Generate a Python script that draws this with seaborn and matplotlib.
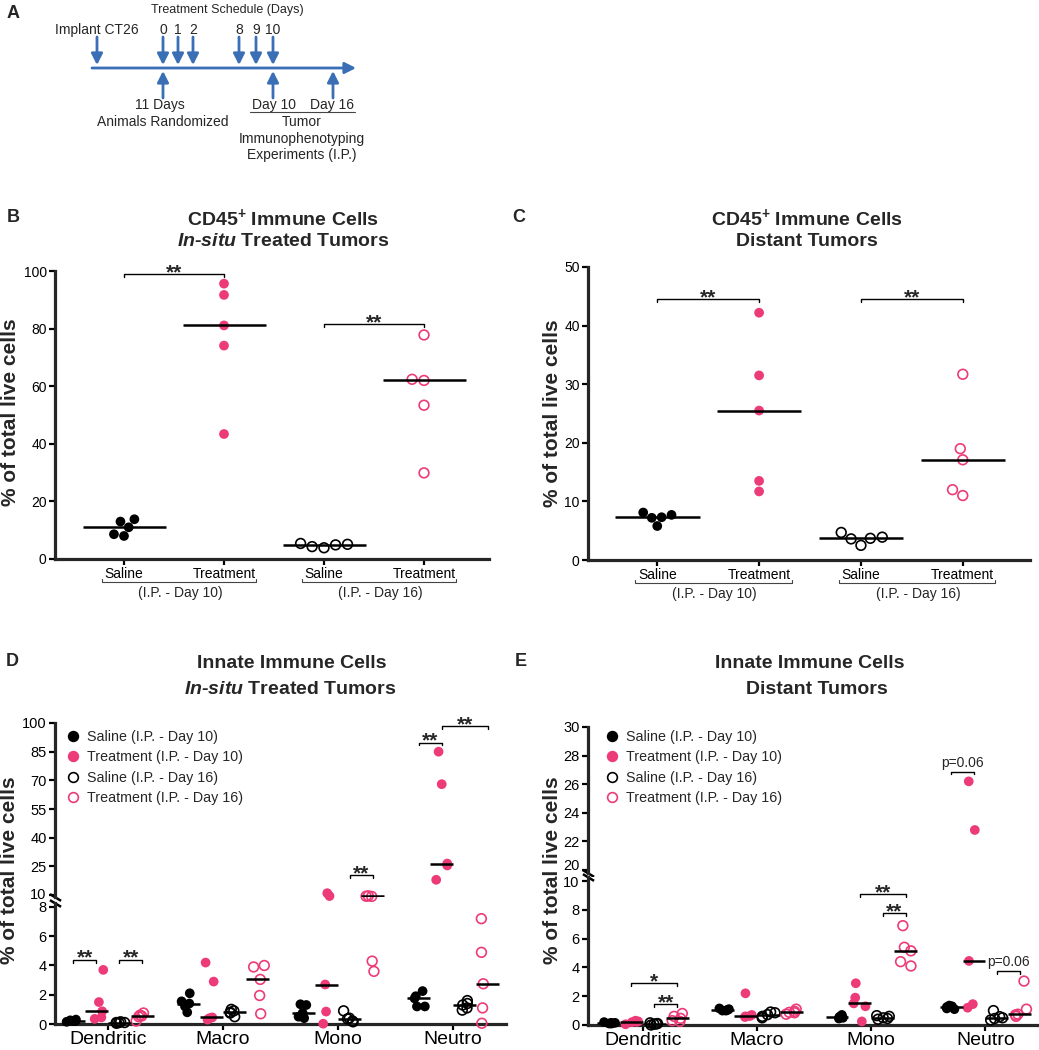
import numpy as np
import pandas as pd
import matplotlib
matplotlib.use('Agg')
import matplotlib.pyplot as plt
from matplotlib.lines import Line2D
from matplotlib.transforms import ScaledTranslation
import seaborn as sns

PINK = '#EC3B78'
BLUE = '#3A6EB5'

groups = ['Saline (I.P. - Day 10)', 'Treatment (I.P. - Day 10)',
          'Saline (I.P. - Day 16)', 'Treatment (I.P. - Day 16)']
group_ticklabels = ['Saline', 'Treatment', 'Saline', 'Treatment']
day_labels = ['(I.P. - Day 10)', '(I.P. - Day 16)']
cells = ['Dendritic', 'Macro', 'Mono', 'Neutro']
schedule_days = ['0', '1', '2', '8', '9', '10']

# Panel B: CD45+ immune cells, in-situ treated tumors (% of total live cells)
b_saline_d10 = [13.8, 8.0, 11.0, 13.0, 8.6]
b_treat_d10 = [95.6, 91.7, 81.1, 74.1, 43.4]
b_saline_d16 = [4.3, 5.4, 4.9, 5.1, 3.9]
b_treat_d16 = [77.8, 62.0, 62.4, 53.4, 29.9]

# Panel C: CD45+ immune cells, distant tumors
c_saline_d10 = [7.7, 5.8, 8.1, 7.2, 7.3]
c_treat_d10 = [42.2, 31.5, 25.5, 13.5, 11.7]
c_saline_d16 = [4.7, 2.5, 3.9, 3.6, 3.7]
c_treat_d16 = [31.7, 19.0, 17.1, 11.0, 12.0]

# Panel D: innate cells, in-situ tumors (rows = Dendritic, Macro, Mono, Neutro)
d_saline_d10 = [[0.15, 0.2, 0.2, 0.25, 0.3],
                [2.1, 1.55, 1.4, 1.2, 0.8],
                [1.35, 1.3, 0.75, 0.5, 0.4],
                [2.25, 1.9, 1.75, 1.2, 1.2]]
d_treat_d10 = [[3.7, 1.5, 0.87, 0.45, 0.35],
               [4.2, 2.9, 0.45, 0.4, 0.3],
               [11.0, 9.5, 2.7, 0.85, 0.02],
               [85.0, 68.0, 26.5, 25.5, 18.0]]
d_saline_d16 = [[0.05, 0.1, 0.1, 0.15, 0.1],
                [1.0, 0.9, 0.8, 0.75, 0.5],
                [0.9, 0.4, 0.35, 0.2, 0.15],
                [1.6, 1.4, 1.3, 1.1, 0.95]]
d_treat_d16 = [[0.75, 0.6, 0.55, 0.2, 0.5],
               [4.0, 3.9, 3.05, 1.95, 0.7],
               [9.6, 9.4, 9.3, 4.3, 3.6],
               [7.2, 4.9, 2.75, 1.1, 0.05]]

# Panel E: innate cells, distant tumors
e_saline_d10 = [[0.2, 0.15, 0.15, 0.1, 0.1],
                [1.15, 1.1, 1.05, 1.0, 1.0],
                [0.7, 0.6, 0.55, 0.5, 0.45],
                [1.35, 1.3, 1.25, 1.15, 1.1]]
e_treat_d10 = [[0.3, 0.25, 0.22, 0.2, 0.05],
               [2.2, 0.7, 0.62, 0.6, 0.55],
               [2.9, 1.9, 1.5, 1.3, 0.25],
               [26.2, 22.8, 4.45, 1.45, 1.2]]
e_saline_d16 = [[0.15, 0.1, 0.08, 0.05, 0.0],
                [0.9, 0.85, 0.72, 0.6, 0.5],
                [0.65, 0.6, 0.5, 0.45, 0.4],
                [1.0, 0.58, 0.5, 0.45, 0.35]]
e_treat_d16 = [[0.8, 0.6, 0.46, 0.3, 0.25],
               [1.1, 0.95, 0.88, 0.85, 0.75],
               [6.9, 5.4, 5.15, 4.4, 4.1],
               [3.05, 1.1, 0.75, 0.7, 0.6]]

palette = dict(zip(groups, ['black', PINK, 'black', PINK]))
hollow = groups[2:]

sns.set_style('ticks')
plt.rcParams['font.family'] = ['Liberation Sans', 'DejaVu Sans']
plt.rcParams['mathtext.fontset'] = 'custom'
plt.rcParams['mathtext.rm'] = 'Liberation Sans'
plt.rcParams['mathtext.bf'] = 'Liberation Sans:bold'
plt.rcParams['mathtext.it'] = 'Liberation Sans:italic'
plt.rcParams['mathtext.bfit'] = 'Liberation Sans:italic:bold'
np.random.seed(3)

W, H = 1039, 1050
fig = plt.figure(figsize=(W / 100, H / 100), dpi=100)


def add_ax(left, top, right, bottom):
    return fig.add_axes([left / W, 1 - bottom / H, (right - left) / W, (bottom - top) / H])


def ftext(x, y, s, **kw):
    kw.setdefault('ha', 'center')
    kw.setdefault('va', 'center')
    fig.text(x / W, 1 - y / H, s, **kw)


def cd45_frame(*series):
    return pd.DataFrame({'group': np.repeat(groups, [len(s) for s in series]),
                         'value': np.concatenate(series)})


def innate_frame(*series):
    rows = []
    for g, s in zip(groups, series):
        for cell, vals in zip(cells, s):
            rows += [(cell, g, v) for v in vals]
    return pd.DataFrame(rows, columns=['cell', 'group', 'value'])


def style_axis(ax, bottom=True, labelsize=10):
    sns.despine(ax=ax, bottom=not bottom)
    for s in ['left', 'bottom']:
        ax.spines[s].set_linewidth(2.3)
    ax.tick_params(direction='out', width=1.6, length=4, colors='black',
                   labelsize=labelsize, pad=2)
    ax.set_xlabel('')
    ax.set_ylabel('')


def draw_points(ax, df, x, order, dodge, swarm):
    for g in groups:
        sub = df[df['group'] == g]
        if sub.empty:
            continue
        n0 = len(ax.collections)
        kws = dict(data=sub, x=x, y='value', hue='group', order=order, hue_order=groups,
                   palette=palette, dodge=dodge, size=7, legend=False, ax=ax,
                   clip_on=False, zorder=3)
        if swarm:
            sns.swarmplot(**kws)
        else:
            sns.stripplot(jitter=0.25, **kws)
        if g in hollow:
            # only touch collections that hold points, empty ones would draw at the origin
            for c in ax.collections[n0:]:
                if len(c.get_offsets()):
                    c.set_facecolor('none')
                    c.set_edgecolor(palette[g])
                    c.set_linewidth(1.2)


def draw_medians(ax, df, x, order, hue=None, width=0.8):
    sns.boxplot(data=df, x=x, y='value', hue=hue, order=order,
                hue_order=groups if hue else None, width=width, legend=False, ax=ax,
                showbox=False, showcaps=False, showfliers=False,
                whiskerprops={'linewidth': 0},
                medianprops={'color': 'black', 'linewidth': 1.8, 'zorder': 4})


def sig(ax, x1, x2, y, drop, label):
    ax.plot([x1, x1, x2, x2], [y - drop, y, y, y - drop], color='black', lw=1.0,
            clip_on=False)
    if label.startswith('p'):
        ax.annotate(label, ((x1 + x2) / 2, y), xytext=(0, 1.5), textcoords='offset points',
                    ha='center', va='bottom', fontsize=10, annotation_clip=False)
    else:
        ax.annotate(label, ((x1 + x2) / 2, y), xytext=(0, -3), textcoords='offset points',
                    ha='center', va='baseline', fontsize=15, fontweight='bold',
                    annotation_clip=False)


def dodge_pos(cat, g):
    return cat + (g - 1.5) * 0.2


def group_underline(ax, h_px):
    trans = ax.get_xaxis_transform()
    for i, lab in enumerate(day_labels):
        x0, x1 = 2 * i - 0.22, 2 * i + 1.32
        y = -23 / h_px
        ax.plot([x0, x0, x1, x1], [y + 3 / h_px, y, y, y + 3 / h_px], transform=trans,
                clip_on=False, color='#444444', lw=0.8)
        ax.text(2 * i + 0.56, -34 / h_px, lab, transform=trans, ha='center', va='center',
                fontsize=10)


def break_mark(ax, y):
    ax.plot([0], [y], transform=ax.transAxes, marker=[(-1, 0.6), (1, -0.6)], ms=8,
            mew=1.8, color='black', mec='black', ls='none', clip_on=False)


def nudge_ytick(ax, label, dy_pt):
    for t in ax.get_yticklabels():
        if t.get_text() == label:
            t.set_transform(t.get_transform() + ScaledTranslation(0, dy_pt / 72, fig.dpi_scale_trans))


# ---------------- Panel A: schedule ----------------
axA = add_ax(0, 0, 400, 170)
axA.set_xlim(0, 400)
axA.set_ylim(170, 0)
axA.axis('off')
arrow = dict(arrowstyle='-|>,head_length=0.55,head_width=0.28', color=BLUE, lw=2,
             mutation_scale=12, shrinkA=0, shrinkB=0)
axA.annotate('', xy=(356, 68), xytext=(92, 68), arrowprops=arrow)
schedule_x = [163, 178, 193, 239, 256, 273]
for xd, lab in zip([97] + schedule_x, ['Implant CT26'] + schedule_days):
    axA.annotate('', xy=(xd, 65), xytext=(xd, 37), arrowprops=arrow)
    axA.text(xd, 30, lab, ha='center', va='center', fontsize=10)
for xd in [163, 273, 333]:
    axA.annotate('', xy=(xd, 71), xytext=(xd, 98), arrowprops=arrow)
axA.text(227, 10, 'Treatment Schedule (Days)', ha='center', va='center', fontsize=9)
axA.text(160, 105, '11 Days', ha='center', va='center', fontsize=10)
axA.text(163, 122, 'Animals Randomized', ha='center', va='center', fontsize=10)
axA.text(274, 105, 'Day 10', ha='center', va='center', fontsize=10)
axA.text(332, 105, 'Day 16', ha='center', va='center', fontsize=10)
axA.plot([250, 355], [112, 112], color='#444444', lw=0.8)
axA.text(302, 122, 'Tumor', ha='center', va='center', fontsize=10)
axA.text(302, 139, 'Immunophenotyping', ha='center', va='center', fontsize=10)
axA.text(302, 155, 'Experiments (I.P.)', ha='center', va='center', fontsize=10)

# ---------------- Panels B and C ----------------
dfB = cd45_frame(b_saline_d10, b_treat_d10, b_saline_d16, b_treat_d16)
dfC = cd45_frame(c_saline_d10, c_treat_d10, c_saline_d16, c_treat_d16)

axB = add_ax(55, 271, 489, 559)
axC = add_ax(588, 267, 1030, 560)
for ax, df, top, step, h_px, xl in [(axB, dfB, 100, 20, 288, (-0.69, 3.65)),
                                    (axC, dfC, 50, 10, 293, (-0.68, 3.66))]:
    draw_points(ax, df, 'group', groups, dodge=False, swarm=True)
    draw_medians(ax, df, 'group', groups, width=0.83)
    style_axis(ax)
    ax.set_ylim(0, top)
    ax.set_yticks(np.arange(0, top + 1, step))
    ax.set_xlim(*xl)
    ax.set_xticks(range(4))
    ax.set_xticklabels(group_ticklabels, fontsize=10)
    group_underline(ax, h_px)

sig(axB, 0, 1, 99, 1.0, '**')
sig(axB, 2, 3, 81.6, 1.0, '**')
sig(axC, 0, 1, 44.5, 0.5, '**')
sig(axC, 2, 3, 44.5, 0.5, '**')

ftext(283, 218, r'CD45$^{\mathbf{+}}$ Immune Cells', fontsize=14, fontweight='bold')
ftext(283, 242, r'$\mathbfit{In}$-$\mathbfit{situ}$ Treated Tumors', fontsize=14,
      fontweight='bold')
ftext(807, 218, r'CD45$^{\mathbf{+}}$ Immune Cells', fontsize=14, fontweight='bold')
ftext(807, 242, 'Distant Tumors', fontsize=14, fontweight='bold')

# ---------------- Panels D and E (broken y axes) ----------------
dfD = innate_frame(d_saline_d10, d_treat_d10, d_saline_d16, d_treat_d16)
dfE = innate_frame(e_saline_d10, e_treat_d10, e_saline_d16, e_treat_d16)

axDu = add_ax(55, 723, 506, 897)
axDl = add_ax(55, 902.6, 506, 1024)
axEu = add_ax(588, 727, 1038, 872.9)
axEl = add_ax(588, 876.7, 1038, 1025)

panels = [(axDu, axDl, dfD, 8.5, (9, 100), np.arange(10, 101, 15), (0, 8.3), np.arange(0, 9, 2),
           (-0.46, 3.46)),
          (axEu, axEl, dfE, 15, (19.8, 30), np.arange(20, 31, 2), (0, 10.3), np.arange(0, 11, 2),
           (-0.48, 3.46))]
for axu, axl, df, cut, ylu, ticku, yll, tickl, xl in panels:
    draw_points(axu, df[df['value'] >= cut], 'cell', cells, dodge=True, swarm=False)
    draw_points(axl, df[df['value'] < cut], 'cell', cells, dodge=True, swarm=False)
    for ax in (axu, axl):
        draw_medians(ax, df, 'cell', cells, hue='group', width=0.8)
        ax.set_xlim(*xl)
    style_axis(axu, bottom=False, labelsize=10.5)
    style_axis(axl, labelsize=10.5)
    axu.tick_params(axis='x', bottom=False, labelbottom=False)
    axu.set_ylim(*ylu)
    axu.set_yticks(ticku)
    axl.set_ylim(*yll)
    axl.set_yticks(tickl)
    axl.set_xticks(range(4))
    axl.set_xticklabels(cells, fontsize=14)
    axl.tick_params(axis='x', pad=1)
    break_mark(axu, 0)
    break_mark(axl, 1)

nudge_ytick(axEu, '20', 4)
nudge_ytick(axDu, '10', 1.5)

sig(axDl, dodge_pos(0, 0), dodge_pos(0, 1), 4.4, 0.2, '**')
sig(axDl, dodge_pos(0, 2), dodge_pos(0, 3), 4.4, 0.2, '**')
sig(axDu, dodge_pos(2, 2), dodge_pos(2, 3), 20.3, 1.3, '**')
sig(axDu, dodge_pos(3, 0), dodge_pos(3, 1), 89.8, 1.3, '**')
sig(axDu, dodge_pos(3, 1), dodge_pos(3, 3), 98.3, 1.3, '**')

sig(axEl, dodge_pos(0, 1), dodge_pos(0, 3), 2.9, 0.18, '*')
sig(axEl, dodge_pos(0, 2), dodge_pos(0, 3), 1.46, 0.18, '**')
sig(axEl, dodge_pos(2, 1), dodge_pos(2, 3), 9.07, 0.18, '**')
sig(axEl, dodge_pos(2, 2), dodge_pos(2, 3), 7.75, 0.18, '**')
sig(axEl, dodge_pos(3, 2), dodge_pos(3, 3), 3.75, 0.18, 'p=0.06')
sig(axEu, dodge_pos(3, 0), dodge_pos(3, 1), 26.87, 0.15, 'p=0.06')

handles = [Line2D([], [], ls='none', marker='o', ms=7,
                  mfc='none' if g in hollow else palette[g], mec=palette[g], mew=1.2, label=g)
           for g in groups]
for ax, x0 in [(axDu, 66), (axEu, 605)]:
    ax.legend(handles=handles, loc='upper left', bbox_to_anchor=(x0 / W, 1 - 730 / H),
              bbox_transform=fig.transFigure, frameon=False, fontsize=10.3,
              handlelength=1.0, handletextpad=0.5, labelspacing=0.45, borderpad=0,
              borderaxespad=0)

ftext(292, 663, 'Innate Immune Cells', fontsize=14, fontweight='bold')
ftext(290, 690, r'$\mathbfit{In}$-$\mathbfit{situ}$ Treated Tumors', fontsize=14,
      fontweight='bold')
ftext(810, 663, 'Innate Immune Cells', fontsize=14, fontweight='bold')
ftext(817, 690, 'Distant Tumors', fontsize=14, fontweight='bold')

# y labels and panel letters
for x, y in [(11, 412), (553, 413), (10, 870), (552, 870)]:
    ftext(x, y, '% of total live cells', rotation=90, fontsize=15, fontweight='bold')
for lab, x, y in [('A', 13, 13), ('B', 13, 218), ('C', 519, 218), ('D', 12, 662), ('E', 521, 662)]:
    ftext(x, y, lab, fontsize=13, fontweight='bold')

fig.savefig('out.png', dpi=100)
